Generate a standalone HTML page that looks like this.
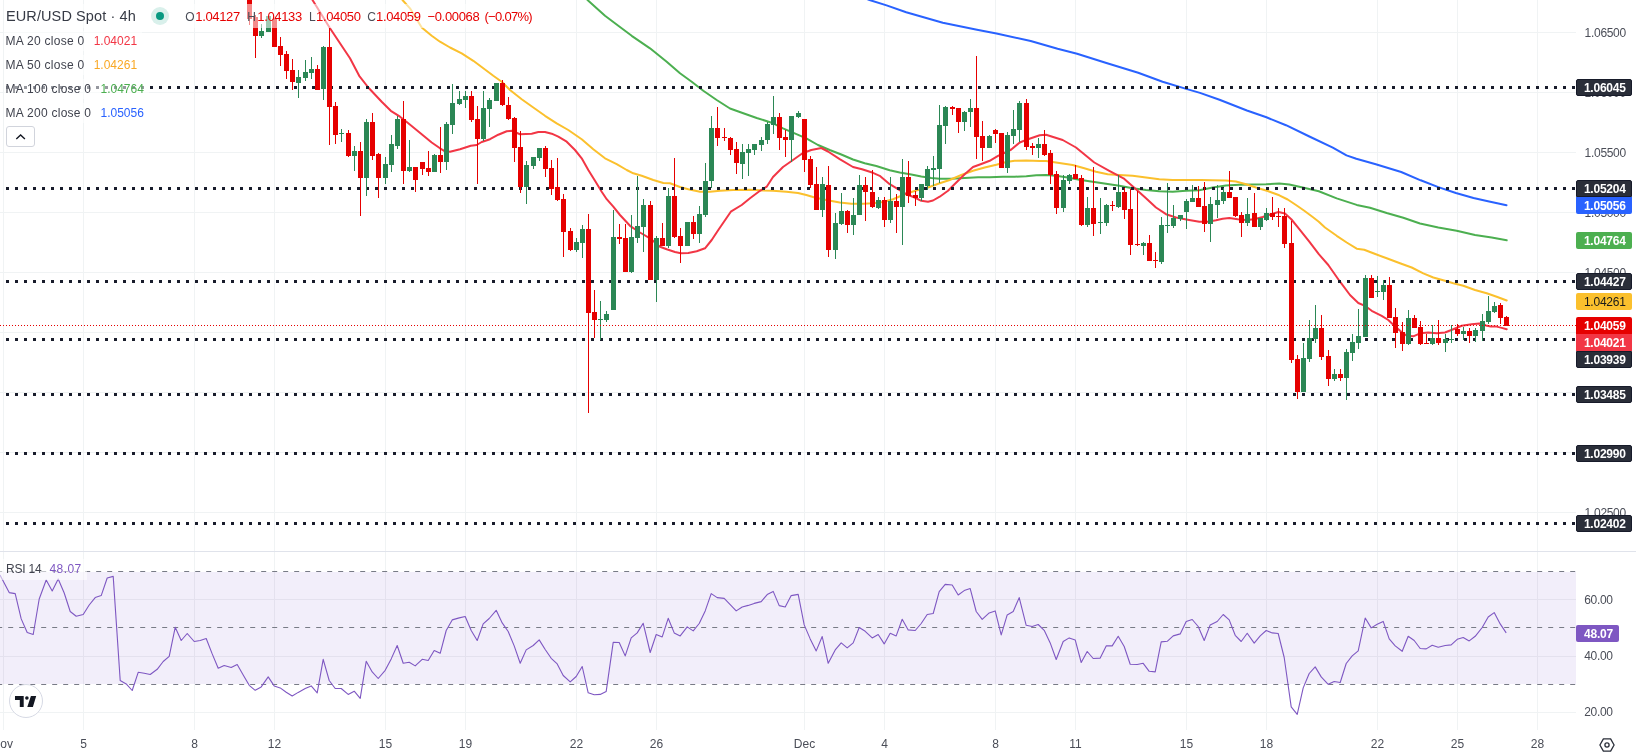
<!DOCTYPE html>
<html><head><meta charset="utf-8"><title>EUR/USD Spot 4h</title>
<style>
html,body{margin:0;padding:0;background:#fff;}
body{-webkit-font-smoothing:antialiased;width:1638px;height:756px;position:relative;overflow:hidden;font-family:"Liberation Sans",sans-serif;}
.t{position:absolute;white-space:nowrap;line-height:1;}
.ax{font-size:12px;color:#4a4d57;letter-spacing:-0.3px;}
.lb{position:absolute;left:1576px;width:56px;height:17px;border-radius:2px;box-sizing:border-box;color:#fff;font-size:12px;font-weight:bold;letter-spacing:-0.22px;line-height:17px;padding-left:7.9px;padding-top:1px;white-space:nowrap;overflow:hidden;}
.dk{background:#2a2e39;border:1px solid #171b2a;line-height:15px;padding-left:6.9px;}
.lg{position:absolute;left:4px;height:20px;background:rgba(255,255,255,0.55);font-size:12px;color:#40434e;white-space:nowrap;line-height:20px;padding-left:1.6px;}
.nm{letter-spacing:0.26px;}
.tm{position:absolute;top:737px;font-size:12px;color:#4a4d57;transform:translateX(-50%);white-space:nowrap;line-height:14px;}
</style></head><body><div id="w" style="position:absolute;left:0;top:0;width:1638px;height:756px;overflow:hidden;will-change:transform">
<svg width="1638" height="756" viewBox="0 0 1638 756" style="position:absolute;left:0;top:0">
<rect x="0" y="572" width="1576" height="112" fill="#f2eefa"/>
<g shape-rendering="crispEdges" fill="#f0f3f4">
<rect x="0" y="32" width="1576" height="1"/>
<rect x="0" y="92" width="1576" height="1"/>
<rect x="0" y="152" width="1576" height="1"/>
<rect x="0" y="212" width="1576" height="1"/>
<rect x="0" y="272" width="1576" height="1"/>
<rect x="0" y="332" width="1576" height="1"/>
<rect x="0" y="392" width="1576" height="1"/>
<rect x="0" y="452" width="1576" height="1"/>
<rect x="0" y="512" width="1576" height="1"/>
<rect x="3" y="0" width="1" height="551"/>
<rect x="83" y="0" width="1" height="551"/>
<rect x="194" y="0" width="1" height="551"/>
<rect x="274" y="0" width="1" height="551"/>
<rect x="385" y="0" width="1" height="551"/>
<rect x="465" y="0" width="1" height="551"/>
<rect x="576" y="0" width="1" height="551"/>
<rect x="656" y="0" width="1" height="551"/>
<rect x="804" y="0" width="1" height="551"/>
<rect x="884" y="0" width="1" height="551"/>
<rect x="995" y="0" width="1" height="551"/>
<rect x="1075" y="0" width="1" height="551"/>
<rect x="1186" y="0" width="1" height="551"/>
<rect x="1266" y="0" width="1" height="551"/>
<rect x="1377" y="0" width="1" height="551"/>
<rect x="1457" y="0" width="1" height="551"/>
<rect x="1537" y="0" width="1" height="551"/>
</g>
<g shape-rendering="crispEdges" fill="#e4e1ee">
<rect x="0" y="599" width="1576" height="1"/>
<rect x="0" y="656" width="1576" height="1"/>
<rect x="3" y="572" width="1" height="112"/>
<rect x="83" y="572" width="1" height="112"/>
<rect x="194" y="572" width="1" height="112"/>
<rect x="274" y="572" width="1" height="112"/>
<rect x="385" y="572" width="1" height="112"/>
<rect x="465" y="572" width="1" height="112"/>
<rect x="576" y="572" width="1" height="112"/>
<rect x="656" y="572" width="1" height="112"/>
<rect x="804" y="572" width="1" height="112"/>
<rect x="884" y="572" width="1" height="112"/>
<rect x="995" y="572" width="1" height="112"/>
<rect x="1075" y="572" width="1" height="112"/>
<rect x="1186" y="572" width="1" height="112"/>
<rect x="1266" y="572" width="1" height="112"/>
<rect x="1377" y="572" width="1" height="112"/>
<rect x="1457" y="572" width="1" height="112"/>
<rect x="1537" y="572" width="1" height="112"/>
</g>
<g shape-rendering="crispEdges" fill="#f0f3f4">
<rect x="0" y="712" width="1576" height="1"/>
<rect x="3" y="552" width="1" height="20"/>
<rect x="3" y="684" width="1" height="46"/>
<rect x="83" y="552" width="1" height="20"/>
<rect x="83" y="684" width="1" height="46"/>
<rect x="194" y="552" width="1" height="20"/>
<rect x="194" y="684" width="1" height="46"/>
<rect x="274" y="552" width="1" height="20"/>
<rect x="274" y="684" width="1" height="46"/>
<rect x="385" y="552" width="1" height="20"/>
<rect x="385" y="684" width="1" height="46"/>
<rect x="465" y="552" width="1" height="20"/>
<rect x="465" y="684" width="1" height="46"/>
<rect x="576" y="552" width="1" height="20"/>
<rect x="576" y="684" width="1" height="46"/>
<rect x="656" y="552" width="1" height="20"/>
<rect x="656" y="684" width="1" height="46"/>
<rect x="804" y="552" width="1" height="20"/>
<rect x="804" y="684" width="1" height="46"/>
<rect x="884" y="552" width="1" height="20"/>
<rect x="884" y="684" width="1" height="46"/>
<rect x="995" y="552" width="1" height="20"/>
<rect x="995" y="684" width="1" height="46"/>
<rect x="1075" y="552" width="1" height="20"/>
<rect x="1075" y="684" width="1" height="46"/>
<rect x="1186" y="552" width="1" height="20"/>
<rect x="1186" y="684" width="1" height="46"/>
<rect x="1266" y="552" width="1" height="20"/>
<rect x="1266" y="684" width="1" height="46"/>
<rect x="1377" y="552" width="1" height="20"/>
<rect x="1377" y="684" width="1" height="46"/>
<rect x="1457" y="552" width="1" height="20"/>
<rect x="1457" y="684" width="1" height="46"/>
<rect x="1537" y="552" width="1" height="20"/>
<rect x="1537" y="684" width="1" height="46"/>
</g>
<rect x="0" y="551" width="1636" height="1" fill="#e0e3eb" shape-rendering="crispEdges"/>
<g fill="none" stroke-width="2" stroke-linejoin="round" stroke-linecap="round">
<path d="M862.0,-3.0 L869.5,0.0 L886.6,5.4 L906.2,12.2 L942.8,22.7 L977.0,29.8 L996.5,33.5 L1030.7,41.0 L1057.6,48.8 L1077.1,53.7 L1106.4,63.0 L1138.2,72.8 L1162.6,81.8 L1187.0,89.1 L1200.0,92.9 L1219.5,99.8 L1246.9,110.5 L1266.4,117.3 L1286.0,125.2 L1309.4,136.5 L1332.8,147.6 L1346.5,155.4 L1356.3,158.8 L1375.8,164.2 L1401.2,172.0 L1420.7,180.3 L1438.3,187.1 L1455.9,193.0 L1473.5,198.0 L1489.1,201.4 L1506.5,205.3" stroke="#2962ff"/>
<path d="M583.0,-6.0 L587.5,0.0 L605.0,15.8 L618.3,25.8 L631.7,35.8 L650.0,48.3 L666.7,61.7 L680.0,73.3 L691.7,81.7 L703.3,90.8 L716.7,100.0 L730.0,108.5 L743.3,113.3 L756.7,118.0 L771.7,122.7 L783.0,128.3 L794.7,133.3 L806.3,138.3 L818.0,145.0 L829.7,150.0 L841.3,154.5 L853.0,159.5 L864.7,163.2 L876.3,166.0 L889.7,170.2 L899.7,172.5 L911.3,174.5 L921.3,176.5 L931.3,178.0 L939.7,178.7 L951.3,178.8 L964.7,178.0 L978.0,177.2 L989.7,177.2 L1003.0,176.7 L1014.7,176.7 L1026.3,176.2 L1036.3,175.3 L1046.0,175.1 L1056.0,175.8 L1067.7,177.5 L1079.3,179.7 L1092.7,181.7 L1106.0,183.7 L1119.3,185.8 L1132.7,188.3 L1146.0,190.0 L1159.3,191.3 L1172.7,191.7 L1186.0,190.8 L1199.3,190.2 L1212.7,187.5 L1226.0,185.5 L1239.3,184.7 L1252.7,184.5 L1266.0,184.2 L1279.3,183.5 L1289.3,184.5 L1299.3,186.7 L1309.3,189.0 L1318.8,191.3 L1336.7,198.4 L1356.7,204.9 L1370.0,207.7 L1386.7,213.0 L1403.3,217.8 L1420.0,223.5 L1438.3,227.5 L1456.7,230.8 L1475.0,235.0 L1491.7,237.5 L1506.7,240.2" stroke="#4caf50"/>
<path d="M398.0,-6.0 L402.5,0.0 L410.0,8.3 L421.7,27.5 L431.7,35.8 L440.0,41.7 L450.0,47.5 L461.7,53.3 L473.3,60.8 L483.3,68.3 L493.3,75.8 L501.7,81.7 L510.0,90.0 L521.7,99.2 L533.3,107.5 L545.0,115.8 L556.7,123.3 L568.3,130.0 L581.7,139.2 L593.3,149.2 L605.0,158.3 L616.7,164.2 L626.7,170.0 L633.3,173.3 L641.7,175.8 L653.3,180.0 L663.3,183.0 L670.0,183.3 L680.0,187.0 L688.3,189.2 L700.0,191.7 L710.0,191.7 L720.0,190.8 L733.3,190.0 L750.0,189.7 L763.3,190.5 L773.0,190.8 L786.3,191.7 L798.0,193.0 L806.3,195.0 L814.7,197.5 L826.3,200.0 L839.7,202.5 L851.3,203.7 L863.0,203.7 L873.0,203.3 L883.0,202.0 L893.0,199.2 L901.3,195.8 L909.7,192.5 L918.0,190.0 L928.0,187.5 L939.7,183.3 L949.7,180.0 L961.3,175.0 L973.0,170.8 L984.7,167.5 L996.3,164.7 L1006.3,162.0 L1014.7,160.8 L1026.3,160.5 L1039.7,161.0 L1046.0,161.0 L1059.3,163.0 L1072.7,165.0 L1084.3,168.3 L1096.0,171.7 L1107.7,174.2 L1119.3,175.0 L1132.7,175.8 L1146.0,177.5 L1159.3,179.2 L1172.7,180.0 L1187.7,180.0 L1201.0,179.9 L1212.7,180.3 L1226.0,180.6 L1236.0,181.5 L1246.0,184.2 L1256.0,187.5 L1267.7,191.0 L1279.3,195.3 L1287.7,199.5 L1296.0,205.0 L1304.3,210.8 L1312.7,217.0 L1318.8,221.7 L1325.0,227.5 L1336.7,235.8 L1346.7,242.5 L1356.7,248.7 L1364.2,249.7 L1373.3,253.3 L1386.7,258.3 L1400.0,263.3 L1411.7,267.5 L1423.3,273.3 L1433.3,277.5 L1445.0,280.8 L1453.3,283.3 L1463.3,285.8 L1475.0,290.0 L1486.7,293.3 L1496.7,296.7 L1506.7,300.5" stroke="#fbc02d"/>
<path d="M312.5,0.0 L330.0,28.3 L340.0,43.3 L350.0,58.3 L359.2,75.8 L368.3,87.5 L381.7,101.7 L390.8,110.8 L400.0,116.7 L408.3,123.3 L421.7,134.2 L431.7,142.5 L440.0,148.3 L445.0,151.3 L450.0,151.7 L460.0,149.2 L470.8,145.8 L476.7,145.0 L481.7,142.0 L490.0,139.2 L498.3,134.7 L506.7,131.3 L511.7,130.8 L520.0,134.2 L531.7,133.7 L538.3,132.0 L545.0,132.0 L551.7,133.7 L558.3,136.7 L566.7,141.7 L575.0,150.0 L581.7,158.3 L588.3,170.0 L595.0,180.8 L601.7,191.7 L606.7,199.2 L613.3,206.7 L620.0,215.0 L630.0,225.8 L640.0,232.5 L650.0,238.3 L660.0,246.7 L666.7,249.2 L675.0,252.0 L680.8,253.3 L688.3,253.0 L696.7,251.3 L705.0,248.3 L711.7,240.0 L718.3,230.0 L730.8,211.7 L741.7,205.0 L750.0,198.3 L760.0,190.8 L766.7,186.7 L773.0,177.0 L783.0,167.0 L793.0,160.0 L802.5,153.3 L811.3,150.0 L821.3,148.0 L828.0,151.5 L839.7,159.2 L853.0,167.0 L862.0,169.2 L873.0,172.8 L879.7,175.8 L889.7,184.2 L898.0,189.2 L906.3,194.2 L914.7,197.5 L921.3,200.8 L928.0,201.7 L933.0,200.5 L939.7,196.7 L948.0,190.8 L956.3,182.5 L964.7,174.2 L973.0,167.0 L981.3,164.0 L989.7,160.8 L998.0,155.8 L1006.3,152.0 L1011.3,149.5 L1019.7,142.5 L1028.0,139.2 L1039.7,135.3 L1046.0,134.7 L1062.7,140.0 L1076.0,147.5 L1094.3,162.5 L1109.3,170.8 L1123.5,178.3 L1136.0,189.2 L1146.0,198.3 L1156.0,207.5 L1166.0,214.2 L1176.0,217.5 L1187.7,219.7 L1199.3,221.7 L1207.7,221.7 L1216.0,220.3 L1222.7,218.7 L1229.3,218.0 L1237.7,219.2 L1246.0,220.0 L1254.3,219.2 L1262.7,217.0 L1271.0,214.2 L1278.5,212.0 L1285.0,213.5 L1291.5,219.5 L1299.3,229.2 L1309.3,241.7 L1318.8,254.2 L1328.3,265.0 L1340.0,281.7 L1350.0,295.0 L1358.3,303.0 L1365.0,305.8 L1371.7,310.8 L1381.7,315.8 L1388.3,320.0 L1393.3,324.7 L1400.0,330.8 L1406.7,335.8 L1413.3,336.3 L1420.0,333.3 L1428.3,332.5 L1436.7,333.3 L1445.0,332.5 L1453.3,329.2 L1461.7,325.8 L1471.7,324.2 L1479.2,323.5 L1483.0,324.0 L1485.8,325.4 L1490.8,326.5 L1496.7,326.6 L1501.7,327.9 L1506.7,329.3" stroke="#f23645"/>
</g>
<line x1="6" y1="87.5" x2="1576" y2="87.5" stroke="#181c2b" stroke-width="3" stroke-dasharray="3 6" shape-rendering="crispEdges"/>
<line x1="6" y1="188.5" x2="1576" y2="188.5" stroke="#181c2b" stroke-width="3" stroke-dasharray="3 6" shape-rendering="crispEdges"/>
<line x1="6" y1="281.5" x2="1576" y2="281.5" stroke="#181c2b" stroke-width="3" stroke-dasharray="3 6" shape-rendering="crispEdges"/>
<line x1="6" y1="339.5" x2="1576" y2="339.5" stroke="#181c2b" stroke-width="3" stroke-dasharray="3 6" shape-rendering="crispEdges"/>
<line x1="6" y1="394.5" x2="1576" y2="394.5" stroke="#181c2b" stroke-width="3" stroke-dasharray="3 6" shape-rendering="crispEdges"/>
<line x1="6" y1="453.5" x2="1576" y2="453.5" stroke="#181c2b" stroke-width="3" stroke-dasharray="3 6" shape-rendering="crispEdges"/>
<line x1="6" y1="523.5" x2="1576" y2="523.5" stroke="#181c2b" stroke-width="3" stroke-dasharray="3 6" shape-rendering="crispEdges"/>
<g shape-rendering="crispEdges">
<rect x="249" y="-5" width="1" height="30" fill="#e60000"/>
<rect x="247" y="-5" width="5" height="24" fill="#e60000"/>
<rect x="255" y="15" width="1" height="43" fill="#e60000"/>
<rect x="253" y="17" width="5" height="19" fill="#e60000"/>
<rect x="261" y="24" width="1" height="14" fill="#2b8755"/>
<rect x="259" y="31" width="5" height="5" fill="#2b8755"/>
<rect x="268" y="16" width="1" height="16" fill="#2b8755"/>
<rect x="266" y="16" width="5" height="16" fill="#2b8755"/>
<rect x="274" y="19" width="1" height="28" fill="#e60000"/>
<rect x="272" y="19" width="5" height="28" fill="#e60000"/>
<rect x="280" y="37" width="1" height="29" fill="#e60000"/>
<rect x="278" y="46" width="5" height="9" fill="#e60000"/>
<rect x="286" y="51" width="1" height="28" fill="#e60000"/>
<rect x="284" y="54" width="5" height="17" fill="#e60000"/>
<rect x="292" y="59" width="1" height="31" fill="#e60000"/>
<rect x="290" y="70" width="5" height="12" fill="#e60000"/>
<rect x="298" y="70" width="1" height="28" fill="#2b8755"/>
<rect x="296" y="77" width="5" height="6" fill="#2b8755"/>
<rect x="305" y="60" width="1" height="21" fill="#2b8755"/>
<rect x="303" y="72" width="5" height="6" fill="#2b8755"/>
<rect x="311" y="57" width="1" height="22" fill="#2b8755"/>
<rect x="309" y="69" width="5" height="4" fill="#2b8755"/>
<rect x="317" y="65" width="1" height="25" fill="#e60000"/>
<rect x="315" y="69" width="5" height="21" fill="#e60000"/>
<rect x="323" y="46" width="1" height="54" fill="#2b8755"/>
<rect x="321" y="47" width="5" height="42" fill="#2b8755"/>
<rect x="329" y="28" width="1" height="117" fill="#e60000"/>
<rect x="327" y="47" width="5" height="60" fill="#e60000"/>
<rect x="335" y="102" width="1" height="42" fill="#e60000"/>
<rect x="333" y="106" width="5" height="29" fill="#e60000"/>
<rect x="341" y="129" width="1" height="13" fill="#2b8755"/>
<rect x="339" y="133" width="5" height="1" fill="#2b8755"/>
<rect x="348" y="130" width="1" height="27" fill="#e60000"/>
<rect x="346" y="133" width="5" height="23" fill="#e60000"/>
<rect x="354" y="146" width="1" height="25" fill="#2b8755"/>
<rect x="352" y="151" width="5" height="5" fill="#2b8755"/>
<rect x="360" y="142" width="1" height="74" fill="#e60000"/>
<rect x="358" y="151" width="5" height="27" fill="#e60000"/>
<rect x="366" y="119" width="1" height="77" fill="#2b8755"/>
<rect x="364" y="122" width="5" height="56" fill="#2b8755"/>
<rect x="372" y="113" width="1" height="47" fill="#e60000"/>
<rect x="370" y="122" width="5" height="34" fill="#e60000"/>
<rect x="378" y="153" width="1" height="45" fill="#e60000"/>
<rect x="376" y="154" width="5" height="24" fill="#e60000"/>
<rect x="385" y="157" width="1" height="27" fill="#2b8755"/>
<rect x="383" y="164" width="5" height="14" fill="#2b8755"/>
<rect x="391" y="135" width="1" height="37" fill="#2b8755"/>
<rect x="389" y="144" width="5" height="21" fill="#2b8755"/>
<rect x="397" y="116" width="1" height="33" fill="#2b8755"/>
<rect x="395" y="119" width="5" height="27" fill="#2b8755"/>
<rect x="403" y="101" width="1" height="83" fill="#e60000"/>
<rect x="401" y="119" width="5" height="52" fill="#e60000"/>
<rect x="409" y="140" width="1" height="32" fill="#2b8755"/>
<rect x="407" y="167" width="5" height="4" fill="#2b8755"/>
<rect x="415" y="167" width="1" height="25" fill="#e60000"/>
<rect x="413" y="167" width="5" height="13" fill="#e60000"/>
<rect x="422" y="162" width="1" height="13" fill="#e60000"/>
<rect x="420" y="162" width="5" height="7" fill="#e60000"/>
<rect x="428" y="151" width="1" height="25" fill="#e60000"/>
<rect x="426" y="168" width="5" height="4" fill="#e60000"/>
<rect x="434" y="154" width="1" height="18" fill="#2b8755"/>
<rect x="432" y="155" width="5" height="17" fill="#2b8755"/>
<rect x="440" y="127" width="1" height="46" fill="#e60000"/>
<rect x="438" y="155" width="5" height="7" fill="#e60000"/>
<rect x="446" y="122" width="1" height="48" fill="#2b8755"/>
<rect x="444" y="124" width="5" height="38" fill="#2b8755"/>
<rect x="452" y="84" width="1" height="50" fill="#2b8755"/>
<rect x="450" y="103" width="5" height="22" fill="#2b8755"/>
<rect x="459" y="91" width="1" height="14" fill="#2b8755"/>
<rect x="457" y="99" width="5" height="5" fill="#2b8755"/>
<rect x="465" y="91" width="1" height="17" fill="#2b8755"/>
<rect x="463" y="96" width="5" height="4" fill="#2b8755"/>
<rect x="471" y="91" width="1" height="31" fill="#e60000"/>
<rect x="469" y="96" width="5" height="24" fill="#e60000"/>
<rect x="477" y="106" width="1" height="78" fill="#e60000"/>
<rect x="475" y="119" width="5" height="20" fill="#e60000"/>
<rect x="483" y="91" width="1" height="50" fill="#2b8755"/>
<rect x="481" y="108" width="5" height="31" fill="#2b8755"/>
<rect x="489" y="98" width="1" height="29" fill="#2b8755"/>
<rect x="487" y="100" width="5" height="9" fill="#2b8755"/>
<rect x="496" y="83" width="1" height="18" fill="#2b8755"/>
<rect x="494" y="83" width="5" height="18" fill="#2b8755"/>
<rect x="502" y="80" width="1" height="26" fill="#e60000"/>
<rect x="500" y="83" width="5" height="22" fill="#e60000"/>
<rect x="508" y="97" width="1" height="23" fill="#e60000"/>
<rect x="506" y="105" width="5" height="14" fill="#e60000"/>
<rect x="514" y="117" width="1" height="45" fill="#e60000"/>
<rect x="512" y="118" width="5" height="30" fill="#e60000"/>
<rect x="520" y="131" width="1" height="62" fill="#e60000"/>
<rect x="518" y="147" width="5" height="40" fill="#e60000"/>
<rect x="526" y="161" width="1" height="43" fill="#2b8755"/>
<rect x="524" y="165" width="5" height="22" fill="#2b8755"/>
<rect x="533" y="157" width="1" height="12" fill="#2b8755"/>
<rect x="531" y="157" width="5" height="9" fill="#2b8755"/>
<rect x="539" y="148" width="1" height="13" fill="#2b8755"/>
<rect x="537" y="148" width="5" height="10" fill="#2b8755"/>
<rect x="545" y="146" width="1" height="31" fill="#e60000"/>
<rect x="543" y="148" width="5" height="21" fill="#e60000"/>
<rect x="551" y="160" width="1" height="35" fill="#e60000"/>
<rect x="549" y="168" width="5" height="21" fill="#e60000"/>
<rect x="557" y="158" width="1" height="43" fill="#e60000"/>
<rect x="555" y="187" width="5" height="13" fill="#e60000"/>
<rect x="563" y="194" width="1" height="63" fill="#e60000"/>
<rect x="561" y="199" width="5" height="33" fill="#e60000"/>
<rect x="570" y="228" width="1" height="23" fill="#e60000"/>
<rect x="568" y="231" width="5" height="19" fill="#e60000"/>
<rect x="576" y="238" width="1" height="14" fill="#2b8755"/>
<rect x="574" y="242" width="5" height="8" fill="#2b8755"/>
<rect x="582" y="225" width="1" height="33" fill="#2b8755"/>
<rect x="580" y="229" width="5" height="14" fill="#2b8755"/>
<rect x="588" y="214" width="1" height="199" fill="#e60000"/>
<rect x="586" y="229" width="5" height="84" fill="#e60000"/>
<rect x="594" y="290" width="1" height="48" fill="#e60000"/>
<rect x="592" y="312" width="5" height="8" fill="#e60000"/>
<rect x="600" y="301" width="1" height="39" fill="#2b8755"/>
<rect x="598" y="319" width="5" height="1" fill="#2b8755"/>
<rect x="606" y="311" width="1" height="11" fill="#2b8755"/>
<rect x="604" y="314" width="5" height="6" fill="#2b8755"/>
<rect x="613" y="210" width="1" height="100" fill="#2b8755"/>
<rect x="611" y="237" width="5" height="73" fill="#2b8755"/>
<rect x="619" y="224" width="1" height="20" fill="#e60000"/>
<rect x="617" y="237" width="5" height="2" fill="#e60000"/>
<rect x="625" y="224" width="1" height="48" fill="#e60000"/>
<rect x="623" y="238" width="5" height="34" fill="#e60000"/>
<rect x="631" y="215" width="1" height="58" fill="#2b8755"/>
<rect x="629" y="237" width="5" height="35" fill="#2b8755"/>
<rect x="637" y="176" width="1" height="67" fill="#2b8755"/>
<rect x="635" y="226" width="5" height="12" fill="#2b8755"/>
<rect x="643" y="199" width="1" height="53" fill="#2b8755"/>
<rect x="641" y="205" width="5" height="22" fill="#2b8755"/>
<rect x="650" y="201" width="1" height="79" fill="#e60000"/>
<rect x="648" y="205" width="5" height="75" fill="#e60000"/>
<rect x="656" y="236" width="1" height="66" fill="#2b8755"/>
<rect x="654" y="238" width="5" height="42" fill="#2b8755"/>
<rect x="662" y="223" width="1" height="23" fill="#e60000"/>
<rect x="660" y="238" width="5" height="8" fill="#e60000"/>
<rect x="668" y="188" width="1" height="60" fill="#2b8755"/>
<rect x="666" y="196" width="5" height="50" fill="#2b8755"/>
<rect x="674" y="158" width="1" height="80" fill="#e60000"/>
<rect x="672" y="196" width="5" height="41" fill="#e60000"/>
<rect x="680" y="228" width="1" height="35" fill="#e60000"/>
<rect x="678" y="236" width="5" height="10" fill="#e60000"/>
<rect x="687" y="222" width="1" height="24" fill="#2b8755"/>
<rect x="685" y="222" width="5" height="24" fill="#2b8755"/>
<rect x="693" y="216" width="1" height="23" fill="#e60000"/>
<rect x="691" y="222" width="5" height="12" fill="#e60000"/>
<rect x="699" y="206" width="1" height="37" fill="#2b8755"/>
<rect x="697" y="214" width="5" height="20" fill="#2b8755"/>
<rect x="705" y="163" width="1" height="54" fill="#2b8755"/>
<rect x="703" y="181" width="5" height="34" fill="#2b8755"/>
<rect x="711" y="116" width="1" height="72" fill="#2b8755"/>
<rect x="709" y="128" width="5" height="53" fill="#2b8755"/>
<rect x="717" y="107" width="1" height="39" fill="#e60000"/>
<rect x="715" y="128" width="5" height="10" fill="#e60000"/>
<rect x="724" y="128" width="1" height="13" fill="#e60000"/>
<rect x="722" y="137" width="5" height="1" fill="#e60000"/>
<rect x="730" y="137" width="1" height="18" fill="#e60000"/>
<rect x="728" y="138" width="5" height="12" fill="#e60000"/>
<rect x="736" y="142" width="1" height="32" fill="#e60000"/>
<rect x="734" y="149" width="5" height="14" fill="#e60000"/>
<rect x="742" y="144" width="1" height="35" fill="#2b8755"/>
<rect x="740" y="152" width="5" height="12" fill="#2b8755"/>
<rect x="748" y="144" width="1" height="32" fill="#2b8755"/>
<rect x="746" y="149" width="5" height="4" fill="#2b8755"/>
<rect x="754" y="144" width="1" height="11" fill="#2b8755"/>
<rect x="752" y="144" width="5" height="6" fill="#2b8755"/>
<rect x="761" y="137" width="1" height="14" fill="#2b8755"/>
<rect x="759" y="140" width="5" height="5" fill="#2b8755"/>
<rect x="767" y="122" width="1" height="22" fill="#2b8755"/>
<rect x="765" y="124" width="5" height="16" fill="#2b8755"/>
<rect x="773" y="96" width="1" height="38" fill="#2b8755"/>
<rect x="771" y="117" width="5" height="8" fill="#2b8755"/>
<rect x="779" y="113" width="1" height="37" fill="#e60000"/>
<rect x="777" y="117" width="5" height="21" fill="#e60000"/>
<rect x="785" y="130" width="1" height="27" fill="#e60000"/>
<rect x="783" y="137" width="5" height="3" fill="#e60000"/>
<rect x="791" y="116" width="1" height="46" fill="#2b8755"/>
<rect x="789" y="116" width="5" height="24" fill="#2b8755"/>
<rect x="798" y="111" width="1" height="7" fill="#2b8755"/>
<rect x="796" y="113" width="5" height="4" fill="#2b8755"/>
<rect x="804" y="119" width="1" height="53" fill="#e60000"/>
<rect x="802" y="119" width="5" height="41" fill="#e60000"/>
<rect x="810" y="156" width="1" height="32" fill="#e60000"/>
<rect x="808" y="159" width="5" height="26" fill="#e60000"/>
<rect x="816" y="167" width="1" height="43" fill="#e60000"/>
<rect x="814" y="184" width="5" height="26" fill="#e60000"/>
<rect x="822" y="177" width="1" height="40" fill="#2b8755"/>
<rect x="820" y="184" width="5" height="26" fill="#2b8755"/>
<rect x="828" y="166" width="1" height="91" fill="#e60000"/>
<rect x="826" y="185" width="5" height="65" fill="#e60000"/>
<rect x="835" y="213" width="1" height="46" fill="#2b8755"/>
<rect x="833" y="223" width="5" height="27" fill="#2b8755"/>
<rect x="841" y="193" width="1" height="32" fill="#2b8755"/>
<rect x="839" y="211" width="5" height="13" fill="#2b8755"/>
<rect x="847" y="210" width="1" height="23" fill="#e60000"/>
<rect x="845" y="211" width="5" height="14" fill="#e60000"/>
<rect x="853" y="198" width="1" height="37" fill="#2b8755"/>
<rect x="851" y="215" width="5" height="10" fill="#2b8755"/>
<rect x="859" y="175" width="1" height="40" fill="#2b8755"/>
<rect x="857" y="185" width="5" height="30" fill="#2b8755"/>
<rect x="865" y="177" width="1" height="44" fill="#e60000"/>
<rect x="863" y="185" width="5" height="7" fill="#e60000"/>
<rect x="872" y="170" width="1" height="38" fill="#e60000"/>
<rect x="870" y="192" width="5" height="15" fill="#e60000"/>
<rect x="878" y="197" width="1" height="12" fill="#2b8755"/>
<rect x="876" y="200" width="5" height="8" fill="#2b8755"/>
<rect x="884" y="197" width="1" height="30" fill="#e60000"/>
<rect x="882" y="200" width="5" height="20" fill="#e60000"/>
<rect x="890" y="177" width="1" height="46" fill="#2b8755"/>
<rect x="888" y="201" width="5" height="19" fill="#2b8755"/>
<rect x="896" y="194" width="1" height="39" fill="#e60000"/>
<rect x="894" y="201" width="5" height="6" fill="#e60000"/>
<rect x="902" y="159" width="1" height="86" fill="#2b8755"/>
<rect x="900" y="177" width="5" height="30" fill="#2b8755"/>
<rect x="908" y="161" width="1" height="42" fill="#e60000"/>
<rect x="906" y="177" width="5" height="19" fill="#e60000"/>
<rect x="915" y="191" width="1" height="15" fill="#e60000"/>
<rect x="913" y="195" width="5" height="3" fill="#e60000"/>
<rect x="921" y="184" width="1" height="17" fill="#2b8755"/>
<rect x="919" y="184" width="5" height="14" fill="#2b8755"/>
<rect x="927" y="166" width="1" height="24" fill="#2b8755"/>
<rect x="925" y="169" width="5" height="17" fill="#2b8755"/>
<rect x="933" y="156" width="1" height="30" fill="#2b8755"/>
<rect x="931" y="168" width="5" height="2" fill="#2b8755"/>
<rect x="939" y="105" width="1" height="78" fill="#2b8755"/>
<rect x="937" y="125" width="5" height="44" fill="#2b8755"/>
<rect x="945" y="106" width="1" height="38" fill="#2b8755"/>
<rect x="943" y="107" width="5" height="19" fill="#2b8755"/>
<rect x="952" y="106" width="1" height="9" fill="#e60000"/>
<rect x="950" y="107" width="5" height="2" fill="#e60000"/>
<rect x="958" y="108" width="1" height="25" fill="#e60000"/>
<rect x="956" y="108" width="5" height="14" fill="#e60000"/>
<rect x="964" y="111" width="1" height="20" fill="#2b8755"/>
<rect x="962" y="112" width="5" height="10" fill="#2b8755"/>
<rect x="970" y="99" width="1" height="28" fill="#2b8755"/>
<rect x="968" y="108" width="5" height="4" fill="#2b8755"/>
<rect x="976" y="56" width="1" height="103" fill="#e60000"/>
<rect x="974" y="108" width="5" height="29" fill="#e60000"/>
<rect x="982" y="121" width="1" height="40" fill="#e60000"/>
<rect x="980" y="136" width="5" height="12" fill="#e60000"/>
<rect x="989" y="135" width="1" height="13" fill="#2b8755"/>
<rect x="987" y="136" width="5" height="12" fill="#2b8755"/>
<rect x="995" y="129" width="1" height="14" fill="#e60000"/>
<rect x="993" y="130" width="5" height="4" fill="#e60000"/>
<rect x="1001" y="133" width="1" height="35" fill="#e60000"/>
<rect x="999" y="133" width="5" height="35" fill="#e60000"/>
<rect x="1007" y="132" width="1" height="41" fill="#2b8755"/>
<rect x="1005" y="135" width="5" height="33" fill="#2b8755"/>
<rect x="1013" y="110" width="1" height="34" fill="#2b8755"/>
<rect x="1011" y="129" width="5" height="7" fill="#2b8755"/>
<rect x="1019" y="101" width="1" height="41" fill="#2b8755"/>
<rect x="1017" y="103" width="5" height="27" fill="#2b8755"/>
<rect x="1026" y="99" width="1" height="51" fill="#e60000"/>
<rect x="1024" y="103" width="5" height="44" fill="#e60000"/>
<rect x="1032" y="143" width="1" height="12" fill="#e60000"/>
<rect x="1030" y="146" width="5" height="2" fill="#e60000"/>
<rect x="1038" y="138" width="1" height="20" fill="#2b8755"/>
<rect x="1036" y="144" width="5" height="4" fill="#2b8755"/>
<rect x="1044" y="130" width="1" height="26" fill="#e60000"/>
<rect x="1042" y="144" width="5" height="11" fill="#e60000"/>
<rect x="1050" y="150" width="1" height="34" fill="#e60000"/>
<rect x="1048" y="153" width="5" height="22" fill="#e60000"/>
<rect x="1056" y="171" width="1" height="43" fill="#e60000"/>
<rect x="1054" y="174" width="5" height="34" fill="#e60000"/>
<rect x="1063" y="175" width="1" height="37" fill="#2b8755"/>
<rect x="1061" y="180" width="5" height="28" fill="#2b8755"/>
<rect x="1069" y="174" width="1" height="10" fill="#2b8755"/>
<rect x="1067" y="175" width="5" height="6" fill="#2b8755"/>
<rect x="1075" y="165" width="1" height="14" fill="#e60000"/>
<rect x="1073" y="174" width="5" height="5" fill="#e60000"/>
<rect x="1081" y="175" width="1" height="51" fill="#e60000"/>
<rect x="1079" y="178" width="5" height="47" fill="#e60000"/>
<rect x="1087" y="197" width="1" height="30" fill="#2b8755"/>
<rect x="1085" y="208" width="5" height="17" fill="#2b8755"/>
<rect x="1093" y="167" width="1" height="69" fill="#e60000"/>
<rect x="1091" y="208" width="5" height="16" fill="#e60000"/>
<rect x="1100" y="198" width="1" height="36" fill="#2b8755"/>
<rect x="1098" y="222" width="5" height="1" fill="#2b8755"/>
<rect x="1106" y="204" width="1" height="22" fill="#2b8755"/>
<rect x="1104" y="205" width="5" height="18" fill="#2b8755"/>
<rect x="1112" y="201" width="1" height="10" fill="#e60000"/>
<rect x="1110" y="205" width="5" height="1" fill="#e60000"/>
<rect x="1118" y="175" width="1" height="33" fill="#2b8755"/>
<rect x="1116" y="192" width="5" height="15" fill="#2b8755"/>
<rect x="1124" y="188" width="1" height="31" fill="#e60000"/>
<rect x="1122" y="192" width="5" height="18" fill="#e60000"/>
<rect x="1130" y="189" width="1" height="66" fill="#e60000"/>
<rect x="1128" y="209" width="5" height="36" fill="#e60000"/>
<rect x="1137" y="191" width="1" height="55" fill="#e60000"/>
<rect x="1135" y="244" width="5" height="1" fill="#e60000"/>
<rect x="1143" y="242" width="1" height="13" fill="#2b8755"/>
<rect x="1141" y="243" width="5" height="3" fill="#2b8755"/>
<rect x="1149" y="235" width="1" height="26" fill="#e60000"/>
<rect x="1147" y="243" width="5" height="18" fill="#e60000"/>
<rect x="1155" y="252" width="1" height="16" fill="#e60000"/>
<rect x="1153" y="260" width="5" height="1" fill="#e60000"/>
<rect x="1161" y="217" width="1" height="47" fill="#2b8755"/>
<rect x="1159" y="225" width="5" height="37" fill="#2b8755"/>
<rect x="1167" y="183" width="1" height="50" fill="#2b8755"/>
<rect x="1165" y="225" width="5" height="1" fill="#2b8755"/>
<rect x="1173" y="205" width="1" height="23" fill="#2b8755"/>
<rect x="1171" y="218" width="5" height="8" fill="#2b8755"/>
<rect x="1180" y="215" width="1" height="6" fill="#2b8755"/>
<rect x="1178" y="215" width="5" height="4" fill="#2b8755"/>
<rect x="1186" y="199" width="1" height="30" fill="#2b8755"/>
<rect x="1184" y="201" width="5" height="11" fill="#2b8755"/>
<rect x="1192" y="185" width="1" height="17" fill="#2b8755"/>
<rect x="1190" y="198" width="5" height="4" fill="#2b8755"/>
<rect x="1198" y="186" width="1" height="21" fill="#e60000"/>
<rect x="1196" y="198" width="5" height="9" fill="#e60000"/>
<rect x="1204" y="182" width="1" height="50" fill="#e60000"/>
<rect x="1202" y="206" width="5" height="18" fill="#e60000"/>
<rect x="1210" y="197" width="1" height="45" fill="#2b8755"/>
<rect x="1208" y="204" width="5" height="20" fill="#2b8755"/>
<rect x="1217" y="185" width="1" height="33" fill="#2b8755"/>
<rect x="1215" y="200" width="5" height="5" fill="#2b8755"/>
<rect x="1223" y="188" width="1" height="16" fill="#2b8755"/>
<rect x="1221" y="192" width="5" height="9" fill="#2b8755"/>
<rect x="1229" y="171" width="1" height="27" fill="#e60000"/>
<rect x="1227" y="192" width="5" height="6" fill="#e60000"/>
<rect x="1235" y="197" width="1" height="20" fill="#e60000"/>
<rect x="1233" y="197" width="5" height="19" fill="#e60000"/>
<rect x="1241" y="212" width="1" height="25" fill="#e60000"/>
<rect x="1239" y="215" width="5" height="8" fill="#e60000"/>
<rect x="1247" y="198" width="1" height="28" fill="#2b8755"/>
<rect x="1245" y="214" width="5" height="9" fill="#2b8755"/>
<rect x="1254" y="193" width="1" height="34" fill="#e60000"/>
<rect x="1252" y="213" width="5" height="14" fill="#e60000"/>
<rect x="1260" y="218" width="1" height="12" fill="#2b8755"/>
<rect x="1258" y="218" width="5" height="9" fill="#2b8755"/>
<rect x="1266" y="208" width="1" height="13" fill="#2b8755"/>
<rect x="1264" y="213" width="5" height="7" fill="#2b8755"/>
<rect x="1272" y="197" width="1" height="23" fill="#e60000"/>
<rect x="1270" y="213" width="5" height="4" fill="#e60000"/>
<rect x="1278" y="208" width="1" height="19" fill="#e60000"/>
<rect x="1276" y="216" width="5" height="1" fill="#e60000"/>
<rect x="1284" y="208" width="1" height="40" fill="#e60000"/>
<rect x="1282" y="216" width="5" height="28" fill="#e60000"/>
<rect x="1291" y="221" width="1" height="142" fill="#e60000"/>
<rect x="1289" y="243" width="5" height="117" fill="#e60000"/>
<rect x="1297" y="355" width="1" height="44" fill="#e60000"/>
<rect x="1295" y="359" width="5" height="33" fill="#e60000"/>
<rect x="1303" y="343" width="1" height="49" fill="#2b8755"/>
<rect x="1301" y="358" width="5" height="34" fill="#2b8755"/>
<rect x="1309" y="320" width="1" height="42" fill="#2b8755"/>
<rect x="1307" y="338" width="5" height="21" fill="#2b8755"/>
<rect x="1315" y="305" width="1" height="38" fill="#2b8755"/>
<rect x="1313" y="328" width="5" height="11" fill="#2b8755"/>
<rect x="1321" y="315" width="1" height="45" fill="#e60000"/>
<rect x="1319" y="328" width="5" height="29" fill="#e60000"/>
<rect x="1328" y="350" width="1" height="36" fill="#e60000"/>
<rect x="1326" y="356" width="5" height="23" fill="#e60000"/>
<rect x="1334" y="369" width="1" height="12" fill="#2b8755"/>
<rect x="1332" y="374" width="5" height="5" fill="#2b8755"/>
<rect x="1340" y="369" width="1" height="12" fill="#e60000"/>
<rect x="1338" y="374" width="5" height="4" fill="#e60000"/>
<rect x="1346" y="349" width="1" height="51" fill="#2b8755"/>
<rect x="1344" y="352" width="5" height="26" fill="#2b8755"/>
<rect x="1352" y="334" width="1" height="27" fill="#2b8755"/>
<rect x="1350" y="342" width="5" height="11" fill="#2b8755"/>
<rect x="1358" y="309" width="1" height="40" fill="#2b8755"/>
<rect x="1356" y="336" width="5" height="7" fill="#2b8755"/>
<rect x="1365" y="275" width="1" height="62" fill="#2b8755"/>
<rect x="1363" y="278" width="5" height="59" fill="#2b8755"/>
<rect x="1371" y="275" width="1" height="23" fill="#e60000"/>
<rect x="1369" y="278" width="5" height="20" fill="#e60000"/>
<rect x="1377" y="276" width="1" height="21" fill="#2b8755"/>
<rect x="1375" y="291" width="5" height="1" fill="#2b8755"/>
<rect x="1383" y="280" width="1" height="20" fill="#2b8755"/>
<rect x="1381" y="285" width="5" height="7" fill="#2b8755"/>
<rect x="1389" y="277" width="1" height="41" fill="#e60000"/>
<rect x="1387" y="285" width="5" height="33" fill="#e60000"/>
<rect x="1395" y="308" width="1" height="40" fill="#e60000"/>
<rect x="1393" y="317" width="5" height="16" fill="#e60000"/>
<rect x="1402" y="322" width="1" height="29" fill="#e60000"/>
<rect x="1400" y="332" width="5" height="12" fill="#e60000"/>
<rect x="1408" y="310" width="1" height="35" fill="#2b8755"/>
<rect x="1406" y="318" width="5" height="26" fill="#2b8755"/>
<rect x="1414" y="315" width="1" height="13" fill="#e60000"/>
<rect x="1412" y="318" width="5" height="10" fill="#e60000"/>
<rect x="1420" y="321" width="1" height="24" fill="#e60000"/>
<rect x="1418" y="327" width="5" height="17" fill="#e60000"/>
<rect x="1426" y="334" width="1" height="10" fill="#e60000"/>
<rect x="1424" y="343" width="5" height="1" fill="#e60000"/>
<rect x="1432" y="325" width="1" height="20" fill="#2b8755"/>
<rect x="1430" y="338" width="5" height="6" fill="#2b8755"/>
<rect x="1438" y="320" width="1" height="25" fill="#e60000"/>
<rect x="1436" y="338" width="5" height="5" fill="#e60000"/>
<rect x="1445" y="334" width="1" height="18" fill="#2b8755"/>
<rect x="1443" y="339" width="5" height="4" fill="#2b8755"/>
<rect x="1451" y="325" width="1" height="18" fill="#2b8755"/>
<rect x="1449" y="339" width="5" height="1" fill="#2b8755"/>
<rect x="1457" y="324" width="1" height="12" fill="#e60000"/>
<rect x="1455" y="329" width="5" height="5" fill="#e60000"/>
<rect x="1463" y="327" width="1" height="13" fill="#2b8755"/>
<rect x="1461" y="331" width="5" height="3" fill="#2b8755"/>
<rect x="1469" y="328" width="1" height="15" fill="#e60000"/>
<rect x="1467" y="331" width="5" height="5" fill="#e60000"/>
<rect x="1475" y="328" width="1" height="14" fill="#2b8755"/>
<rect x="1473" y="330" width="5" height="6" fill="#2b8755"/>
<rect x="1482" y="314" width="1" height="27" fill="#2b8755"/>
<rect x="1480" y="321" width="5" height="10" fill="#2b8755"/>
<rect x="1488" y="296" width="1" height="28" fill="#2b8755"/>
<rect x="1486" y="311" width="5" height="11" fill="#2b8755"/>
<rect x="1494" y="302" width="1" height="11" fill="#2b8755"/>
<rect x="1492" y="306" width="5" height="6" fill="#2b8755"/>
<rect x="1500" y="303" width="1" height="21" fill="#e60000"/>
<rect x="1498" y="305" width="5" height="13" fill="#e60000"/>
<rect x="1506" y="316" width="1" height="10" fill="#e60000"/>
<rect x="1504" y="317" width="5" height="9" fill="#e60000"/>
</g>
<line x1="0" y1="325.5" x2="1576" y2="325.5" stroke="#e60000" stroke-width="1" stroke-dasharray="1 2" shape-rendering="crispEdges"/>
<line x1="-2.8" y1="571.5" x2="1576" y2="571.5" stroke="#787b86" stroke-width="1" stroke-dasharray="5 6"/>
<line x1="-2.8" y1="627.5" x2="1576" y2="627.5" stroke="#787b86" stroke-width="1" stroke-dasharray="5 6"/>
<line x1="-2.8" y1="684.5" x2="1576" y2="684.5" stroke="#787b86" stroke-width="1" stroke-dasharray="5 6"/>
<path d="M0.0,575.0 L9.2,592.6 L15.2,593.6 L21.2,618.9 L27.2,632.5 L33.2,634.5 L39.2,599.0 L46.2,580.0 L52.2,591.0 L58.2,579.0 L64.2,593.0 L70.2,611.5 L76.2,616.3 L83.2,614.5 L89.2,605.0 L95.2,597.6 L101.2,595.6 L107.2,578.0 L113.2,576.4 L120.2,680.5 L126.2,683.9 L132.2,690.5 L138.2,672.3 L144.2,673.3 L150.2,674.5 L157.2,669.3 L163.2,661.5 L169.2,656.3 L175.2,627.3 L181.2,640.5 L187.2,633.5 L194.2,641.5 L200.2,640.5 L206.2,638.5 L212.2,653.9 L218.2,668.3 L224.2,665.5 L231.2,667.5 L237.2,664.5 L243.2,674.9 L249.2,685.3 L255.2,690.3 L261.2,686.9 L268.2,676.9 L274.2,685.9 L280.2,687.9 L286.2,692.2 L292.2,696.0 L298.2,692.4 L305.2,688.5 L311.2,685.9 L317.2,692.8 L323.2,659.3 L329.2,680.5 L335.2,688.5 L341.2,688.5 L348.2,694.4 L354.2,691.2 L360.2,698.4 L366.2,661.3 L372.2,671.9 L378.2,678.5 L385.2,670.3 L391.2,658.9 L397.2,645.5 L403.2,663.3 L409.2,662.3 L415.2,665.9 L422.2,659.3 L428.2,660.5 L434.2,650.5 L440.2,653.3 L446.2,630.5 L452.2,619.9 L459.2,617.9 L465.2,616.5 L471.2,630.5 L477.2,640.5 L483.2,623.9 L489.2,618.5 L496.2,610.3 L502.2,622.9 L508.2,631.5 L514.2,645.9 L520.2,663.3 L526.2,649.9 L533.2,645.5 L539.2,639.9 L545.2,649.5 L551.2,658.3 L557.2,663.9 L563.2,675.5 L570.2,681.9 L576.2,676.5 L582.2,666.5 L588.2,692.8 L594.2,694.8 L600.2,694.4 L606.2,691.4 L613.2,642.3 L619.2,642.5 L625.2,655.9 L631.2,637.9 L637.2,632.9 L643.2,623.3 L650.2,652.5 L656.2,634.5 L662.2,636.9 L668.2,618.3 L674.2,632.9 L680.2,635.9 L687.2,626.9 L693.2,630.9 L699.2,623.5 L705.2,610.9 L711.2,593.6 L717.2,597.6 L724.2,598.4 L730.2,604.6 L736.2,610.9 L742.2,607.0 L748.2,605.4 L754.2,603.4 L761.2,601.6 L767.2,594.6 L773.2,591.4 L779.2,605.6 L785.2,607.0 L791.2,595.6 L798.2,594.4 L804.2,624.9 L810.2,638.9 L816.2,650.9 L822.2,636.5 L828.2,663.3 L835.2,649.9 L841.2,642.9 L847.2,647.9 L853.2,642.9 L859.2,627.5 L865.2,631.3 L872.2,637.9 L878.2,634.5 L884.2,643.9 L890.2,633.3 L896.2,635.9 L902.2,619.3 L908.2,629.9 L915.2,630.5 L921.2,623.5 L927.2,614.5 L933.2,613.5 L939.2,591.6 L945.2,584.4 L952.2,585.0 L958.2,595.0 L964.2,590.6 L970.2,588.6 L976.2,611.5 L982.2,619.3 L989.2,612.9 L995.2,610.9 L1001.2,634.9 L1007.2,614.9 L1013.2,611.5 L1019.2,597.6 L1026.2,625.3 L1032.2,626.5 L1038.2,624.5 L1044.2,630.3 L1050.2,642.9 L1056.2,659.5 L1063.2,641.5 L1069.2,637.9 L1075.2,639.9 L1081.2,662.5 L1087.2,651.5 L1093.2,658.5 L1100.2,658.1 L1106.2,645.9 L1112.2,645.9 L1118.2,636.3 L1124.2,646.5 L1130.2,664.3 L1137.2,664.5 L1143.2,663.3 L1149.2,671.3 L1155.2,671.9 L1161.2,641.9 L1167.2,641.3 L1173.2,635.9 L1180.2,633.9 L1186.2,621.5 L1192.2,619.5 L1198.2,626.5 L1204.2,640.5 L1210.2,624.9 L1217.2,621.5 L1223.2,614.5 L1229.2,619.9 L1235.2,635.3 L1241.2,641.5 L1247.2,633.3 L1254.2,643.1 L1260.2,635.9 L1266.2,630.5 L1272.2,632.9 L1278.2,633.5 L1284.2,657.5 L1291.2,706.8 L1297.2,714.4 L1303.2,687.9 L1309.2,673.5 L1315.2,666.9 L1321.2,676.9 L1328.2,684.3 L1334.2,681.5 L1340.2,682.5 L1346.2,663.5 L1352.2,655.9 L1358.2,650.9 L1365.2,618.0 L1371.2,627.9 L1377.2,624.3 L1383.2,621.4 L1389.2,638.9 L1395.2,645.9 L1402.2,651.3 L1408.2,636.3 L1414.2,640.5 L1420.2,648.5 L1426.2,648.9 L1432.2,645.3 L1438.2,647.3 L1445.2,645.5 L1451.2,644.9 L1457.2,639.3 L1463.2,637.5 L1469.2,640.9 L1475.2,636.3 L1482.2,627.5 L1488.2,617.0 L1494.2,612.6 L1500.2,623.9 L1506.2,632.9" fill="none" stroke="#7e57c2" stroke-width="1.1" stroke-linejoin="round"/>
</svg>
<div class="t ax" style="left:1584.6px;top:27.0px">1.06500</div>
<div class="t ax" style="left:1584.6px;top:87.0px">1.06000</div>
<div class="t ax" style="left:1584.6px;top:147.0px">1.05500</div>
<div class="t ax" style="left:1584.6px;top:207.0px">1.05000</div>
<div class="t ax" style="left:1584.6px;top:267.0px">1.04500</div>
<div class="t ax" style="left:1584.6px;top:327.0px">1.04000</div>
<div class="t ax" style="left:1584.6px;top:387.0px">1.03500</div>
<div class="t ax" style="left:1584.6px;top:447.0px">1.03000</div>
<div class="t ax" style="left:1584.6px;top:507.0px">1.02500</div>
<div class="t ax" style="left:1584.2px;top:594.0px">60.00</div>
<div class="t ax" style="left:1584.2px;top:650.2px">40.00</div>
<div class="t ax" style="left:1584.2px;top:705.5px">20.00</div>
<div class="lb dk" style="top:79px;border-radius:2px">1.06045</div>
<div class="lb dk" style="top:180px;border-radius:2px 2px 0 0">1.05204</div>
<div class="lb dk" style="top:273px;border-radius:2px">1.04427</div>
<div class="lb dk" style="top:351px;border-radius:0 0 2px 2px">1.03939</div>
<div class="lb dk" style="top:386px;border-radius:2px">1.03485</div>
<div class="lb dk" style="top:445px;border-radius:2px">1.02990</div>
<div class="lb dk" style="top:515px;border-radius:2px">1.02402</div>
<div class="lb" style="top:197px;background:#2962ff;border-radius:0 0 2px 2px">1.05056</div>
<div class="lb" style="top:232px;background:#4caf50">1.04764</div>
<div class="lb" style="top:293px;background:#fbc02d;color:#1a1a1a;font-weight:normal">1.04261</div>
<div class="lb" style="top:334px;background:#f23645;border-radius:0">1.04021</div>
<div class="lb" style="top:317px;background:#e60000;border-radius:2px 2px 0 0">1.04059</div>
<div class="lb" style="top:625px;width:43px;background:#7e57c2;padding-left:8px">48.07</div>
<div class="lg" style="top:4px;height:24px;width:532px;"></div>
<div class="t" style="left:6px;top:8.5px;font-size:14.5px;color:#363a45;letter-spacing:0.1px" id="ttl">EUR/USD Spot · 4h</div>
<div style="position:absolute;left:151px;top:7px;width:18px;height:18px;border-radius:50%;background:#d9f0eb"></div>
<div style="position:absolute;left:156px;top:12px;width:8px;height:8px;border-radius:50%;background:#089981"></div>
<div class="t oh" style="left:185.3px;top:11px;font-size:12px;color:#4a4d57">O</div>
<div class="t oh" style="left:195.3px;top:10px;font-size:13px;color:#e60000;letter-spacing:-0.35px">1.04127</div>
<div class="t oh" style="left:247.3px;top:11px;font-size:12px;color:#4a4d57">H</div>
<div class="t oh" style="left:257.3px;top:10px;font-size:13px;color:#e60000;letter-spacing:-0.35px">1.04133</div>
<div class="t oh" style="left:309.0px;top:11px;font-size:12px;color:#4a4d57">L</div>
<div class="t oh" style="left:316px;top:10px;font-size:13px;color:#e60000;letter-spacing:-0.35px">1.04050</div>
<div class="t oh" style="left:367.3px;top:11px;font-size:12px;color:#4a4d57">C</div>
<div class="t oh" style="left:376px;top:10px;font-size:13px;color:#e60000;letter-spacing:-0.35px">1.04059</div>
<div class="t oh" style="left:427.5px;top:10px;font-size:13px;color:#e60000;letter-spacing:-0.35px">−0.00068</div>
<div class="t oh" style="left:484.5px;top:10px;font-size:13px;color:#e60000;letter-spacing:-0.72px">(−0.07%)</div>
<div class="lg" style="top:30.5px;width:136.7px"><span class="nm">MA 20 close 0</span><span class="vl" style="position:absolute;left:89.7px;color:#f23645">1.04021</span></div>
<div class="lg" style="top:54.5px;width:136.7px"><span class="nm">MA 50 close 0</span><span class="vl" style="position:absolute;left:89.7px;color:#f9a825">1.04261</span></div>
<div class="lg" style="top:78.5px;width:143.5px"><span class="nm">MA 100 close 0</span><span class="vl" style="position:absolute;left:96.5px;color:#4caf50">1.04764</span></div>
<div class="lg" style="top:102.5px;width:143.5px"><span class="nm">MA 200 close 0</span><span class="vl" style="position:absolute;left:96.5px;color:#2962ff">1.05056</span></div>
<div style="position:absolute;left:6px;top:126px;width:29px;height:21px;box-sizing:border-box;border:1px solid #d1d4dc;border-radius:3px;background:#fff"></div>
<svg style="position:absolute;left:14px;top:131px" width="14" height="12" viewBox="0 0 14 12"><path d="M2.3 8 L6.6 4 L10.9 8" fill="none" stroke="#131722" stroke-width="1.4"/></svg>
<div class="lg" style="top:559px;left:0;width:87px;height:21px;padding-left:6px;box-sizing:border-box;"><span style="letter-spacing:-0.2px">RSI 14</span><span style="position:absolute;left:49.4px;color:#7e57c2;letter-spacing:0.45px">48.07</span></div>
<div style="position:absolute;left:9px;top:684px;width:34px;height:34px;box-sizing:border-box;border-radius:50%;border:1px solid #d6d9e4;background:#fff"></div>
<svg style="position:absolute;left:9px;top:684px" width="34" height="34" viewBox="0 0 34 34"><path d="M6 12.1 h8.7 v10.8 h-3.9 v-6.9 h-4.8z M21.9 12.1 h5.3 l-3.3 10.8 h-5.6z" fill="#131722"/><circle cx="17.9" cy="14" r="1.8" fill="#131722"/></svg>
<div class="tm" style="left:2.3px">Nov</div>
<div class="tm" style="left:83.5px">5</div>
<div class="tm" style="left:194.5px">8</div>
<div class="tm" style="left:274.5px">12</div>
<div class="tm" style="left:385.5px">15</div>
<div class="tm" style="left:465.5px">19</div>
<div class="tm" style="left:576.5px">22</div>
<div class="tm" style="left:656.5px">26</div>
<div class="tm" style="left:804.5px">Dec</div>
<div class="tm" style="left:884.5px">4</div>
<div class="tm" style="left:995.5px">8</div>
<div class="tm" style="left:1075.5px">11</div>
<div class="tm" style="left:1186.5px">15</div>
<div class="tm" style="left:1266.5px">18</div>
<div class="tm" style="left:1377.5px">22</div>
<div class="tm" style="left:1457.5px">25</div>
<div class="tm" style="left:1537.5px">28</div>
<svg style="position:absolute;left:1598px;top:736px" width="18" height="18" viewBox="0 0 18 18"><path d="M1.9 9 L5.4 2.9 H12.6 L16.1 9 L12.6 15.1 H5.4 Z" fill="none" stroke="#2a2e39" stroke-width="1.3" stroke-linejoin="round"/><circle cx="9" cy="9" r="2.1" fill="none" stroke="#2a2e39" stroke-width="1.3"/></svg>
</div></body></html>
